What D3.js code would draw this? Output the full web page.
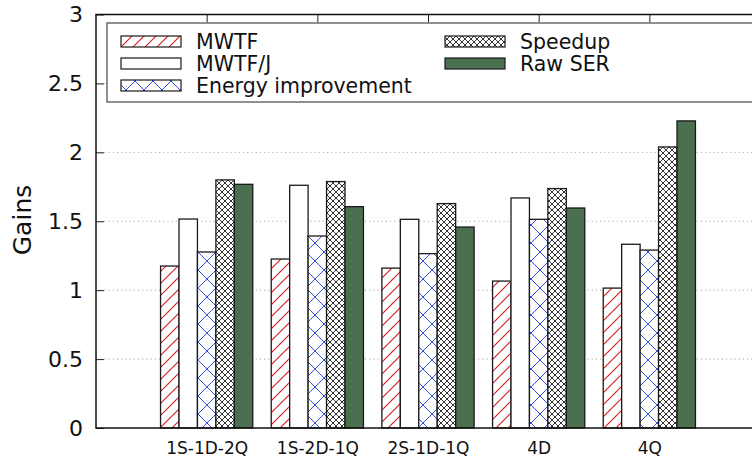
<!DOCTYPE html>
<html>
<head>
<meta charset="utf-8">
<script src="https://cdn.jsdelivr.net/npm/d3@7"></script>
<style>
  html, body { margin: 0; padding: 0; background: #fff; }
  svg { display: block; font-family: "DejaVu Sans", sans-serif; }
</style>
</head>
<body>
<svg id="chart" width="752" height="457"></svg>
<script>
// Configurations on the x axis
const categories = ["1S-1D-2Q", "1S-2D-1Q", "2S-1D-1Q", "4D", "4Q"];

// Gains per configuration, one array per metric
const mwtf     = [1.175, 1.226, 1.160, 1.066, 1.015];
const mwtfJ    = [1.516, 1.761, 1.514, 1.669, 1.333];
const energy   = [1.277, 1.393, 1.265, 1.514, 1.291];
const speedup  = [1.800, 1.788, 1.628, 1.737, 2.039];
const rawSER   = [1.768, 1.606, 1.458, 1.596, 2.228];

const seriesNames = ["MWTF", "MWTF/J", "Energy improvement", "Speedup", "Raw SER"];
const seriesValues = [mwtf, mwtfJ, energy, speedup, rawSER];

const yTicks = [0, 0.5, 1, 1.5, 2, 2.5, 3];
const yTickLabels = ["0", "0.5", "1", "1.5", "2", "2.5", "3"];

const svg = d3.select("#chart");
const defs = svg.append("defs");

// Fill patterns
const hatch = defs.append("pattern").attr("id", "pat-mwtf")
  .attr("patternUnits", "userSpaceOnUse").attr("width", 12).attr("height", 12);
hatch.append("rect").attr("width", 12).attr("height", 12).attr("fill", "#fff");
hatch.append("path").attr("d", "M-3,15 L15,-3 M-3,3 L3,-3 M9,15 L15,9")
  .attr("stroke", "#e01818").attr("stroke-width", 1.1);

const wide = defs.append("pattern").attr("id", "pat-energy")
  .attr("patternUnits", "userSpaceOnUse").attr("width", 18).attr("height", 18);
wide.append("rect").attr("width", 18).attr("height", 18).attr("fill", "#fff");
wide.append("path").attr("d", "M0,0 L18,18 M18,0 L0,18")
  .attr("stroke", "#3050e0").attr("stroke-width", 1);

const dense = defs.append("pattern").attr("id", "pat-speedup")
  .attr("patternUnits", "userSpaceOnUse").attr("width", 6).attr("height", 6);
dense.append("rect").attr("width", 6).attr("height", 6).attr("fill", "#fff");
dense.append("path").attr("d", "M0,0 L6,6 M6,0 L0,6")
  .attr("stroke", "#333").attr("stroke-width", 1);

const fills = ["url(#pat-mwtf)", "#ffffff", "url(#pat-energy)", "url(#pat-speedup)", "#4a704f"];

// Plot frame
const plotLeft = 96, plotRight = 760, plotTop = 14.5, plotBottom = 428;

// Category positions: groups at 0..4, axis range -1..5
const x = d3.scaleLinear().domain([-1, 5]).range([plotLeft, plotRight]);
const slot = (x(1) - x(0)) / 6;
const xSeries = d3.scaleBand().domain(d3.range(seriesNames.length))
  .range([-2.5 * slot, 2.5 * slot]).padding(0);
const y = d3.scaleLinear().domain([0, 3]).range([plotBottom, plotTop]);

// Dotted grid
svg.append("g").selectAll("line").data(yTicks.slice(1)).join("line")
  .attr("x1", plotLeft).attr("x2", plotRight)
  .attr("y1", d => y(d)).attr("y2", d => y(d))
  .attr("stroke", "#a8a8a8").attr("stroke-width", 1)
  .attr("stroke-dasharray", "1.2,3");

// Bars
const barG = svg.append("g");
seriesValues.forEach((vals, si) => {
  barG.append("g").selectAll("rect").data(vals).join("rect")
    .attr("x", (d, i) => x(i) + xSeries(si))
    .attr("y", d => y(d))
    .attr("width", xSeries.bandwidth())
    .attr("height", d => y(0) - y(d))
    .attr("fill", fills[si])
    .attr("stroke", "#1a1a1a").attr("stroke-width", 1.3);
});

// Axes with inward ticks
const yAxis = d3.axisLeft(y).tickValues(yTicks).tickSize(-8)
  .tickFormat((d, i) => yTickLabels[i]).tickPadding(13);
const gy = svg.append("g").attr("transform", `translate(${plotLeft},0)`).call(yAxis);
gy.select(".domain").remove();
gy.selectAll(".tick line").attr("stroke", "#222").attr("stroke-width", 1);
gy.selectAll(".tick text").attr("font-size", 22).attr("fill", "#111")
  .attr("font-family", "DejaVu Sans");

const xAxisTop = d3.axisTop(x).tickValues(d3.range(categories.length)).tickSize(-8).tickFormat("");
const gxt = svg.append("g").attr("transform", `translate(0,${plotTop})`).call(xAxisTop);
gxt.select(".domain").remove();
gxt.selectAll(".tick line").attr("stroke", "#222").attr("stroke-width", 1);

const xAxis = d3.axisBottom(x).tickValues(d3.range(categories.length)).tickSize(0)
  .tickFormat(i => categories[i]).tickPadding(14);
const gx = svg.append("g").attr("transform", `translate(0,${plotBottom})`).call(xAxis);
gx.select(".domain").remove();
gx.selectAll(".tick text").attr("font-size", 17).attr("fill", "#111")
  .attr("font-family", "DejaVu Sans");

// Frame
svg.append("rect").attr("x", plotLeft).attr("y", plotTop)
  .attr("width", plotRight - plotLeft).attr("height", plotBottom - plotTop)
  .attr("fill", "none").attr("stroke", "#111").attr("stroke-width", 1.5);

// Y axis title
svg.append("text").attr("transform", "translate(31,220) rotate(-90)")
  .attr("text-anchor", "middle").attr("font-size", 25).attr("fill", "#111")
  .text("Gains");

// Legend
const legend = svg.append("g");
legend.append("rect").attr("x", 107).attr("y", 23).attr("width", 648).attr("height", 79)
  .attr("fill", "#fff").attr("stroke", "#555").attr("stroke-width", 1.3);
const legendPos = [
  {kx: 121, ky: 36}, {kx: 121, ky: 58}, {kx: 121, ky: 80},
  {kx: 445, ky: 36}, {kx: 445, ky: 58}
];
seriesNames.forEach((name, si) => {
  const p = legendPos[si];
  legend.append("rect").attr("x", p.kx).attr("y", p.ky).attr("width", 60).attr("height", 11)
    .attr("fill", fills[si]).attr("stroke", "#1a1a1a").attr("stroke-width", 1.2);
  legend.append("text").attr("x", p.kx + 75).attr("y", p.ky + 12.5)
    .attr("font-size", 20.5).attr("fill", "#111").text(name);
});
</script>
</body>
</html>
